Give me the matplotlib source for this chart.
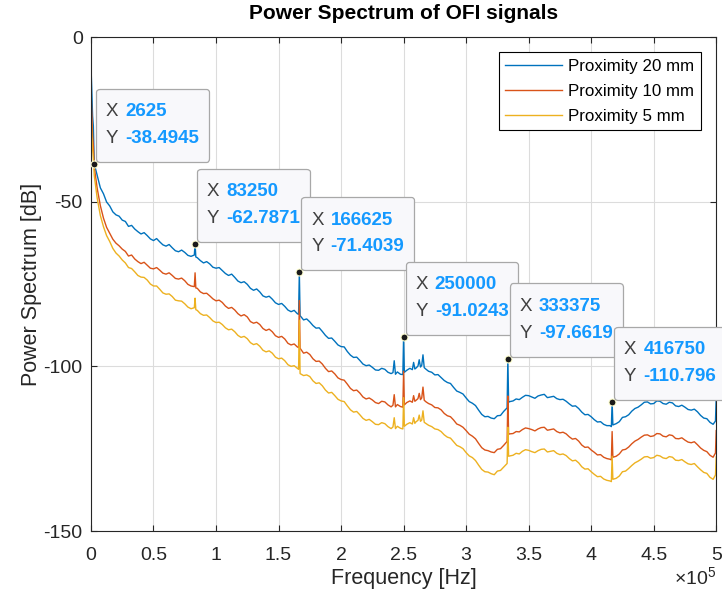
import numpy as np
import matplotlib
matplotlib.use('Agg')
import matplotlib.pyplot as plt
from matplotlib.ticker import FuncFormatter, MultipleLocator
from matplotlib.offsetbox import TextArea, HPacker, VPacker, DrawingArea, AnnotationBbox

plt.rcParams['font.family'] = ['Liberation Sans', 'DejaVu Sans']
plt.rcParams['mathtext.fontset'] = 'custom'
plt.rcParams['mathtext.rm'] = 'Liberation Sans'
plt.rcParams['axes.unicode_minus'] = False

# frequency axis in kHz, extra points around the harmonics
freq_khz = [0, 0.7, 1.3, 1.9, 2.625, 5, 7.5, 10, 12.5, 15, 17.5,
            20, 22.5, 25, 27.5, 30, 32.5, 35, 37.5, 40, 42.5, 45, 47.5, 50,
            52.5, 55, 57.5, 60, 62.5, 65, 67.5, 70, 72.5, 75, 77.5, 80,
            82.65, 83.25, 83.85,
            85, 87.5, 90, 92.5, 95, 97.5, 100, 102.5, 105, 107.5, 110,
            112.5, 115, 117.5, 120, 122.5, 125, 127.5, 130, 132.5, 135,
            137.5, 140, 142.5, 145, 147.5, 150, 152.5, 155, 157.5, 160, 162.5, 165,
            166.025, 166.625, 167.225,
            170, 172.5, 175, 177.5, 180, 182.5, 185, 187.5, 190, 192.5,
            195, 197.5, 200, 202.5, 205, 207.5, 210, 212.5, 215, 217.5,
            220, 222.5, 225, 227.5, 230, 232.5, 235, 237.5, 240,
            241.5, 242.5, 243.5, 245, 247.5, 249.4, 250, 250.6, 252.5, 255, 257,
            258, 259, 260, 261.5, 262.5, 263.5, 264.5, 265.5, 266.5, 268, 270,
            272.5, 275, 277.5, 280, 282.5, 285, 287.5, 290, 292.5, 295, 297.5, 300,
            302.5, 305, 307.5, 310, 312.5, 315, 317.5, 320, 322.5, 325, 327.5, 330,
            332.775, 333.375, 333.975,
            335, 337.5, 340, 342.5, 345, 347.5, 350, 352.5, 355, 357.5, 360,
            362.5, 365, 367.5, 370, 372.5, 375, 377.5, 380, 382.5, 385, 387.5,
            390, 392.5, 395, 397.5, 400, 402.5, 405, 407.5, 410, 412.5, 415,
            416.15, 416.75, 417.35,
            420, 422.5, 425, 427.5, 430, 432.5, 435, 437.5, 440, 442.5, 445,
            447.5, 450, 452.5, 455, 457.5, 460, 462.5, 465, 467.5, 470, 472.5,
            475, 477.5, 480, 482.5, 485, 487.5, 490, 492.5, 495, 497.5, 499.4, 500]

p20 = [-8.5, -17, -24, -27, -38.4945, -42.0, -45.8, -47.6, -50.1, -51.3, -53.1,
       -54.0, -54.4, -55.6, -56.0, -57.5, -57.2, -58.3, -59.1, -59.8, -59.4, -60.3, -61.3, -61.8,
       -61.2, -62.2, -63.1, -63.5, -63.0, -64.0, -64.9, -65.2, -64.7, -65.4, -66.3, -66.6,
       -66.2, -62.7871, -66.8,
       -67.0, -67.9, -68.6, -68.2, -68.9, -69.9, -70.2, -70.0, -70.9, -71.8, -72.4,
       -72.0, -73.0, -74.1, -74.6, -74.3, -75.1, -76.3, -76.9, -76.5, -77.4,
       -78.6, -79.0, -78.7, -79.6, -80.7, -81.2, -80.9, -81.8, -82.9, -83.4, -83.0, -84.0,
       -84.2, -71.4039, -84.6,
       -85.9, -85.6, -86.5, -87.6, -88.4, -88.3, -89.4, -90.6, -91.5, -91.4,
       -92.4, -93.5, -94.0, -94.1, -95.5, -96.6, -97.3, -97.2, -98.2, -99.3,
       -99.8, -99.6, -100.3, -101.1, -101.2, -100.6, -100.9, -101.8, -102.2,
       -101.9, -98.3, -102.4, -101.7, -102.4, -102.5, -91.0243, -101.8, -101.2, -100.6, -101.0,
       -98.8, -100.8, -100.5, -99.9, -98.0, -100.2, -99.7, -96.5, -100.4, -100.9, -101.5,
       -101.8, -102.6, -102.5, -103.4, -104.3, -104.9, -105.2, -106.4, -107.5, -107.9, -108.4, -109.6,
       -110.7, -111.2, -111.9, -113.3, -114.6, -115.3, -115.2, -115.7, -115.9, -115.0, -114.9, -113.7,
       -112.6, -97.6619, -110.9,
       -110.7, -110.5, -109.9, -110.1, -109.4, -108.8, -108.9, -109.3, -109.7, -109.0, -108.7,
       -108.5, -109.5, -109.3, -109.1, -109.8, -110.1, -110.0, -110.6, -111.4, -112.1, -112.0,
       -112.8, -113.9, -114.7, -114.6, -115.3, -116.2, -116.9, -116.8, -117.6, -118.0, -118.0,
       -118.3, -110.796, -117.8,
       -117.4, -116.8, -115.5, -115.3, -114.7, -113.6, -112.8, -112.4, -111.7, -110.9, -110.8,
       -111.4, -111.3, -110.5, -110.6, -111.3, -111.5, -110.9, -111.1, -112.0, -112.2, -111.8,
       -112.4, -113.1, -113.3, -113.0, -113.8, -114.9, -115.7, -115.9, -117.0, -117.6, -116.6, -109.5]

p10 = [-16, -24, -30, -33, -39.5, -46.0, -51.2, -55.0, -57.8, -59.6, -61.4,
       -62.6, -63.4, -64.4, -65.1, -66.5, -66.2, -67.4, -68.2, -68.8, -68.4, -69.3, -70.2, -70.4,
       -70.0, -70.8, -71.7, -72.0, -71.6, -72.4, -73.3, -73.5, -73.2, -74.0, -75.1, -75.6,
       -75.8, -71.6, -76.2,
       -76.3, -77.4, -77.9, -77.8, -78.6, -79.5, -80.1, -79.9, -80.6, -81.7, -82.4,
       -82.1, -82.9, -84.0, -84.7, -84.3, -85.0, -86.4, -86.9, -86.6, -87.3,
       -88.5, -89.1, -88.7, -89.5, -90.7, -91.2, -90.9, -91.7, -93.0, -93.5, -93.2, -94.1,
       -94.3, -80.0, -94.5,
       -96.0, -95.7, -96.4, -97.7, -98.5, -98.4, -99.3, -100.6, -101.6, -101.4,
       -102.3, -103.5, -104.0, -104.2, -105.4, -106.7, -107.4, -107.2, -108.1, -109.3,
       -109.9, -109.6, -110.2, -111.0, -111.3, -110.6, -110.8, -111.7, -112.3,
       -111.8, -108.6, -112.3, -111.6, -112.2, -112.4, -101.5, -111.7, -111.0, -110.5, -110.9,
       -108.9, -110.6, -110.3, -109.8, -108.2, -110.1, -109.6, -106.3, -110.3, -110.8, -111.3,
       -111.7, -112.5, -112.6, -113.2, -114.3, -115.0, -115.3, -116.3, -117.5, -117.9, -118.5, -119.5,
       -120.6, -121.2, -122.0, -123.4, -124.7, -125.4, -125.6, -126.0, -126.2, -125.2, -125.0, -124.0,
       -122.8, -109.0, -120.6,
       -120.5, -120.4, -119.8, -119.9, -119.2, -118.7, -118.9, -119.2, -119.6, -119.0, -118.6,
       -118.5, -119.4, -119.2, -119.0, -119.8, -120.2, -120.0, -120.5, -121.4, -122.1, -121.9,
       -122.7, -123.9, -124.6, -124.5, -125.4, -126.1, -126.9, -126.8, -127.6, -128.0, -128.2,
       -128.4, -119.8, -127.6,
       -127.3, -126.6, -125.4, -125.2, -124.5, -123.5, -122.7, -122.2, -121.5, -120.9, -120.8,
       -121.3, -121.1, -120.4, -120.5, -121.2, -121.4, -120.8, -121.0, -121.9, -122.0, -121.7,
       -122.4, -123.0, -123.2, -122.9, -123.8, -124.8, -125.5, -125.9, -127.0, -127.6, -126.3, -119.5]

p5 = [-22, -30, -34, -37, -42.0, -49.0, -54.2, -57.6, -60.3, -62.1, -64.2,
      -65.6, -66.5, -67.7, -68.6, -70.0, -70.3, -71.3, -72.4, -72.9, -73.0, -73.8, -75.0, -75.6,
      -75.6, -76.6, -77.7, -78.1, -78.0, -78.8, -79.9, -80.1, -80.2, -81.0, -82.0, -82.5,
      -82.2, -79.3, -82.8,
      -83.0, -84.0, -84.5, -84.4, -85.2, -86.2, -86.7, -86.6, -87.3, -88.3, -88.9,
      -88.7, -89.5, -90.6, -91.2, -90.9, -91.6, -92.8, -93.4, -93.1, -93.9,
      -95.1, -95.6, -95.3, -96.0, -97.2, -97.7, -97.5, -98.3, -99.5, -100.0, -99.8, -100.6,
      -100.9, -86.0, -102.2,
      -102.8, -102.6, -103.1, -104.4, -105.2, -105.0, -105.9, -107.2, -108.1, -107.9,
      -108.9, -110.0, -110.5, -110.7, -112.0, -113.2, -113.9, -113.7, -114.7, -115.8,
      -116.4, -116.1, -116.8, -117.6, -117.7, -117.1, -117.4, -118.3, -118.9,
      -118.4, -115.6, -118.9, -118.2, -118.8, -119.0, -109.5, -118.2, -117.6, -117.1, -117.5,
      -115.6, -117.3, -116.8, -116.4, -114.8, -116.7, -116.3, -113.5, -117.0, -117.4, -117.9,
      -118.3, -119.0, -119.2, -119.8, -120.8, -121.5, -121.8, -122.9, -124.0, -124.4, -125.0, -126.2,
      -127.2, -127.7, -128.6, -130.0, -131.3, -132.0, -132.1, -132.6, -132.9, -131.8, -131.6, -130.6,
      -129.5, -118.5, -127.3,
      -127.2, -127.0, -126.4, -126.6, -125.8, -125.3, -125.5, -125.9, -126.2, -125.6, -125.2,
      -125.1, -126.0, -125.8, -125.6, -126.4, -126.8, -126.6, -127.1, -128.0, -128.7, -128.5,
      -129.3, -130.5, -131.2, -131.1, -132.0, -132.8, -133.5, -133.4, -134.2, -134.6, -134.8,
      -135.0, -127.3, -134.3,
      -134.0, -133.3, -132.0, -131.8, -131.0, -130.1, -129.3, -128.8, -128.2, -127.5, -127.4,
      -127.9, -127.7, -127.0, -127.2, -127.8, -128.0, -127.4, -127.6, -128.5, -128.6, -128.3,
      -129.0, -129.6, -129.8, -129.5, -130.5, -131.4, -132.2, -132.5, -133.7, -134.3, -133.0, -127.5]

labels = ['Proximity 20 mm', 'Proximity 10 mm', 'Proximity 5 mm']
colors = ['#0072BD', '#D95319', '#EDB120']

# data tips on the 20 mm trace
tip_x = [2625, 83250, 166625, 250000, 333375, 416750]
tip_y = [-38.4945, -62.7871, -71.4039, -91.0243, -97.6619, -110.796]

f = np.array(freq_khz) * 1000

fig = plt.figure(figsize=(7.22, 5.99), dpi=100)
ax = fig.add_axes([0.126, 0.1135, 0.866, 0.8247])

for s, c, l in zip([p20, p10, p5], colors, labels):
    ax.plot(f, s, color=c, lw=1.0, label=l)

ax.set_xlim(0, 5e5)
ax.set_ylim(-150, 0)
ax.xaxis.set_major_locator(MultipleLocator(0.5e5))
ax.yaxis.set_major_locator(MultipleLocator(50))
ax.xaxis.set_major_formatter(FuncFormatter(lambda v, p: '%g' % (v / 1e5)))
ax.grid(True, color='#dcdcdc', lw=0.8)
ax.set_axisbelow(True)
for sp in ax.spines.values():
    sp.set_color('#262626')
    sp.set_linewidth(0.8)
ax.tick_params(direction='in', top=True, right=True, length=4, width=0.8,
               labelsize=14, colors='#262626')
ax.tick_params(axis='x', pad=11.5)
ax.tick_params(axis='y', pad=6)

ax.set_title('Power Spectrum of OFI signals', fontsize=15, fontweight='bold', pad=13)
ax.set_xlabel('Frequency [Hz]', fontsize=15.5, color='#262626', labelpad=3)
ax.set_ylabel('Power Spectrum [dB]', fontsize=15.5, color='#262626', labelpad=1)
ax.text(1.0, -0.094, r'$\times 10^{5}$', transform=ax.transAxes, ha='right', va='center',
        fontsize=14, color='#262626')

leg = ax.legend(loc='upper right', fontsize=12.2, handlelength=3.35, handletextpad=0.35,
                borderaxespad=0.9, fancybox=False, framealpha=1, edgecolor='black',
                labelspacing=0.58)
leg.get_frame().set_linewidth(0.8)

ax.plot(tip_x, tip_y, 'o', ms=5, mfc='#1a1a1a', mec='#ffffd0', mew=0.8, zorder=5)
for x, y in zip(tip_x, tip_y):
    rows = []
    for name, val in (('X', '%g' % x), ('Y', '%g' % y)):
        rows.append(HPacker(children=[
            TextArea(name, textprops=dict(color='#404040', size=13.5)),
            TextArea(val, textprops=dict(color='#1499ff', size=13.5, weight='bold'))],
            pad=0, sep=5, align='baseline'))
    inner = VPacker(children=rows, pad=0, sep=7, align='left')
    box = VPacker(children=[DrawingArea(0, 3.6), inner, DrawingArea(0, 3.6)],
                  pad=7, sep=0, align='left')
    ab = AnnotationBbox(box, (x, y), xybox=(1.5, 1.5), xycoords='data',
                        boxcoords='offset points', box_alignment=(0, 0),
                        annotation_clip=False, zorder=6,
                        bboxprops=dict(boxstyle='round,pad=0,rounding_size=0.25',
                                       fc='#f8f8fb', ec='#a8a8a8', lw=0.9))
    ax.add_artist(ab)

fig.savefig('out.png', dpi=100)
